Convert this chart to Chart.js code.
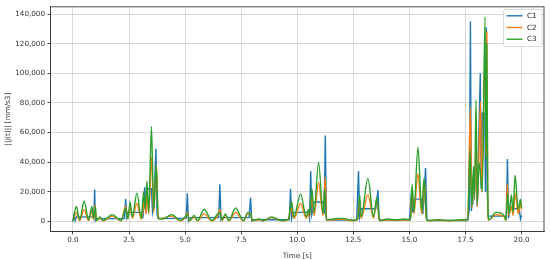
<!DOCTYPE html>
<html><head><meta charset="utf-8">
<script src="https://cdn.jsdelivr.net/npm/chart.js@4"></script>
<style>html,body{margin:0;padding:0;background:#fff}#wrap{width:550px;height:260px;position:relative}</style>
</head><body><div id="wrap"><canvas id="c" width="550" height="260"></canvas></div>
<script>
const seriesNames = ["C1", "C2", "C3"];
const xTicks = [0, 2.5, 5, 7.5, 10, 12.5, 15, 17.5, 20];
const yTicks = [0, 20000, 40000, 60000, 80000, 100000, 120000, 140000];

const c1T = [0,0.05,0.1,0.15,0.93,0.97,1.0,1.05,2.3,2.35,2.4,2.45,3.1,3.12,3.2,3.25,3.3,3.5,3.55,3.6,3.7,3.75,3.8,5.05,5.1,5.15,5.2,6.5,6.55,6.6,6.65,7.85,7.92,7.97,8.0,9.65,9.7,9.75,9.8,10.5,10.55,10.6,10.65,10.75,11.15,11.2,11.25,11.3,11.35,12.65,12.73,12.78,12.85,13.5,13.6,13.65,13.7,15.0,15.1,15.15,15.2,15.55,15.6,15.72,15.78,15.85,17.6,17.67,17.72,17.76,17.8,17.83,17.97,18.02,18.16,18.2,18.25,18.36,18.39,18.43,18.47,18.52,19.3,19.32,19.37,19.42,19.47,19.9,19.95,20.0];
const c1V = [0,4000,500,3000,3000,21500,500,1800,1800,15000,3000,6000,6000,2000,23000,5000,22000,22000,6000,10000,49000,5000,2000,2000,19000,500,2500,2500,25000,1000,2500,2500,16000,500,1000,1000,22000,2000,6000,6000,2000,34000,5000,13000,13000,5000,58000,1000,800,800,34000,3000,8500,8500,21000,1500,800,800,21000,6000,15000,15000,5000,36000,800,500,500,8000,135000,7000,12000,29000,29000,10000,100000,22000,73000,73000,20000,131000,20000,3500,3500,1000,42000,2000,8500,8500,1500,4000];

const c2T = [0,0.15,0.3,0.5,0.7,0.85,0.92,0.98,1.05,1.2,1.35,1.75,2.15,2.35,2.45,2.55,2.65,2.85,3.05,3.2,3.25,3.3,3.38,3.5,3.6,3.72,3.8,4.4,4.8,5.0,5.1,5.2,5.4,5.55,5.85,6.2,6.45,6.55,6.65,6.8,6.95,7.25,7.6,7.8,7.92,8.0,8.3,8.5,8.85,9.3,9.6,9.72,9.85,10.15,10.4,10.5,10.55,10.65,10.75,10.95,11.15,11.25,11.3,11.6,12.0,12.5,12.7,12.76,12.85,13.15,13.4,13.55,13.65,13.7,14.0,14.4,14.8,15.05,15.12,15.2,15.38,15.55,15.67,15.75,15.8,16.3,16.8,17.3,17.6,17.72,17.78,17.86,17.9,17.97,18.03,18.17,18.22,18.37,18.41,18.45,18.49,18.53,18.85,19.25,19.3,19.37,19.43,19.55,19.62,19.72,19.85,19.95,20.0];
const c2V = [0,6000,500,8000,500,7000,1000,11000,500,2000,300,3500,300,10000,1500,10000,2000,12000,1500,15000,5000,18000,5000,43000,6000,38000,1500,3500,300,2500,6000,300,3000,300,5000,300,4000,8000,500,4000,300,6000,300,5000,5000,300,1000,300,2500,300,1000,9000,2000,12000,2000,6000,3000,16000,4000,26000,4000,30000,800,1000,1500,300,1500,15000,2000,18000,2000,15000,1500,300,1000,800,1000,800,22000,5000,32000,5000,27000,2000,300,800,300,800,1000,77000,9000,33000,14000,56000,10000,81000,20000,112000,45000,128000,10000,800,4500,2500,300,25000,4000,10000,4000,19000,5000,12000,8000];

const c3T = [0,0.15,0.3,0.5,0.7,0.85,0.92,1.0,1.05,1.2,1.35,1.75,2.15,2.35,2.45,2.55,2.65,2.85,3.05,3.15,3.22,3.3,3.38,3.5,3.6,3.72,3.8,4.0,4.4,4.8,5.0,5.1,5.2,5.4,5.55,5.85,6.2,6.45,6.55,6.65,6.8,6.95,7.25,7.6,7.8,7.9,8.0,8.3,8.5,8.85,9.3,9.6,9.75,9.85,10.15,10.4,10.5,10.55,10.65,10.75,10.95,11.15,11.22,11.3,11.6,12.0,12.5,12.7,12.78,12.85,13.15,13.4,13.55,13.65,13.7,14.0,14.4,14.8,15.05,15.12,15.2,15.38,15.55,15.65,15.75,15.8,16.3,16.8,17.3,17.6,17.7,17.78,17.86,17.9,17.97,18.03,18.1,18.25,18.37,18.41,18.45,18.5,18.55,18.85,19.25,19.3,19.38,19.45,19.55,19.62,19.71,19.85,19.95,20.0];
const c3V = [0,10000,1000,13500,1000,10000,2000,10000,500,3000,500,4500,500,9000,2000,13000,3000,19000,2000,20000,8000,27000,6000,64000,8000,38000,2000,1500,4500,500,3000,5000,500,4000,500,8000,500,5000,6000,1000,5000,500,9000,500,6000,5000,500,1500,500,3000,500,1500,13000,3000,18500,3000,8000,4000,22000,6000,40000,5000,22000,1000,1500,2000,500,2000,18000,3000,29000,3000,16000,2000,500,1500,1000,1500,1000,25000,6000,50000,7000,29000,3000,500,1000,500,1000,1500,48000,10000,37000,15000,82000,12000,40000,20000,138000,42000,120000,8000,1000,6000,3000,500,19000,5000,18000,6000,31000,8000,15000,9000];

const colors = ["#1f77b4", "#ff7f0e", "#2ca02c"];
const toPts = (T, V) => T.map((t, i) => ({x: t, y: V[i]}));
const FONT = {family: "'DejaVu Sans', sans-serif", size: 7.2};

const frameAndLegend = {
  id: 'frameAndLegend',
  afterDatasetsDraw(chart) {
    const {ctx, chartArea: a} = chart;
    ctx.save();
    ctx.strokeStyle = '#3a3a3a';
    ctx.lineWidth = 0.9;
    ctx.strokeRect(a.left, a.top, a.right - a.left, a.bottom - a.top);
    const lx = 503.5, ly = 9.5, lw = 38.5, lh = 37;
    ctx.fillStyle = 'rgba(255,255,255,0.85)';
    ctx.strokeStyle = '#d0d0d0';
    ctx.lineWidth = 0.8;
    ctx.beginPath();
    if (ctx.roundRect) ctx.roundRect(lx, ly, lw, lh, 2); else ctx.rect(lx, ly, lw, lh);
    ctx.fill(); ctx.stroke();
    ctx.font = "7.2px 'DejaVu Sans', sans-serif";
    ctx.textBaseline = 'middle';
    ctx.textAlign = 'left';
    const labels = chart.data.datasets.slice().sort((p, q) => seriesNames.indexOf(p.label) - seriesNames.indexOf(q.label));
    labels.forEach((ds, i) => {
      const y = 15.8 + i * 11.7;
      ctx.strokeStyle = ds.borderColor;
      ctx.lineWidth = 1.4;
      ctx.beginPath(); ctx.moveTo(506.5, y); ctx.lineTo(522.5, y); ctx.stroke();
      ctx.fillStyle = '#222';
      ctx.fillText(ds.label, 527, y + 0.3);
    });
    ctx.restore();
  }
};

new Chart(document.getElementById('c'), {
  type: 'line',
  data: {
    datasets: [
      {label: seriesNames[0], data: toPts(c1T, c1V), borderColor: colors[0], borderWidth: 1.4, pointRadius: 0, tension: 0, order: 3},
      {label: seriesNames[1], data: toPts(c2T, c2V), borderColor: colors[1], borderWidth: 1.4, pointRadius: 0, cubicInterpolationMode: 'monotone', order: 2},
      {label: seriesNames[2], data: toPts(c3T, c3V), borderColor: colors[2], borderWidth: 1.4, pointRadius: 0, cubicInterpolationMode: 'monotone', order: 1}
    ]
  },
  options: {
    responsive: false,
    devicePixelRatio: 1,
    animation: false,
    layout: {padding: {left: 0, right: 6, top: 6.5, bottom: 0}},
    plugins: {legend: {display: false}, tooltip: {enabled: false}},
    scales: {
      x: {
        type: 'linear', min: -1, max: 21,
        afterBuildTicks: s => { s.ticks = xTicks.map(v => ({value: v})); },
        afterFit: s => { s.height = 28.5; },
        ticks: {font: FONT, color: '#333', padding: 1.5, maxRotation: 0, autoSkip: false,
                callback: v => Number(v).toFixed(1)},
        grid: {color: '#d4d4d4', lineWidth: 0.9, tickLength: 3, tickColor: '#333'},
        border: {display: true, color: '#3a3a3a', width: 0.9},
        title: {display: true, text: 'Time [s]', font: FONT, color: '#333', padding: {top: 0, bottom: 0}}
      },
      y: {
        type: 'linear', min: -6900, max: 144900,
        afterBuildTicks: s => { s.ticks = yTicks.map(v => ({value: v})); },
        afterFit: s => { s.width = 50.5; },
        ticks: {font: FONT, color: '#333', padding: 2.5, autoSkip: false,
                callback: v => Number(v).toLocaleString('en-US')},
        grid: {color: '#d4d4d4', lineWidth: 0.9, tickLength: 3, tickColor: '#333'},
        border: {display: true, color: '#3a3a3a', width: 0.9},
        title: {display: true, text: '||j(t)|| [mm/s3]', font: FONT, color: '#333', padding: {top: 4, bottom: 0}}
      }
    }
  },
  plugins: [frameAndLegend]
});
</script></body></html>
